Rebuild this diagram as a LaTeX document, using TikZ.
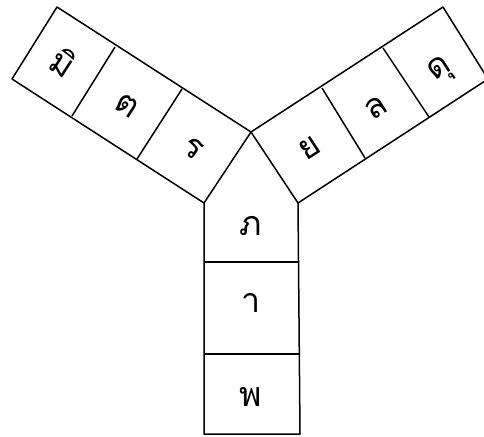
\documentclass[tikz,border=0pt]{standalone}
\usepackage{fontspec}
\newfontfamily\thaifont[Script=Thai]{Loma}
\usetikzlibrary{calc}
\tikzstyle{cell}=[draw=black,line width=1.5pt,line join=round]
\tikzstyle{letter}=[inner sep=0pt,font=\thaifont\fontsize{34}{40}\selectfont]

\begin{document}
\begin{tikzpicture}[x=1pt,y=-1pt]
\useasboundingbox (0,0) rectangle (484,436);
\clip (0,0) rectangle (484,436);
        % centre and inner corners
        \coordinate (O)   at (251,132);
        \coordinate (Lin) at (204,203);
        \coordinate (Rin) at (298,203);
        % left arm
        \coordinate (L0t) at (57,7);   \coordinate (L0b) at (12,79);
        \coordinate (L1t) at (115,47); \coordinate (L1b) at (72,116);
        \coordinate (L2t) at (182,89); \coordinate (L2b) at (137,159);
        % right arm
        \coordinate (R0t) at (443,7);   \coordinate (R0b) at (488,79);
        \coordinate (R1t) at (383,48);  \coordinate (R1b) at (429,117);
        \coordinate (R2t) at (322,88);  \coordinate (R2b) at (365,158);
        % bottom arm
        \coordinate (B1l) at (204,262); \coordinate (B1r) at (299,262);
        \coordinate (B2l) at (204,354); \coordinate (B2r) at (299,354);
        \coordinate (B3l) at (204,434); \coordinate (B3r) at (300,434);

        \draw[cell] (O) -- (L0t) -- (L0b) -- (Lin) -- cycle;
        \draw[cell] (O) -- (R0t) -- (R0b) -- (Rin) -- cycle;
        \draw[cell] (Lin) -- (B3l) -- (B3r) -- (Rin);
        \foreach \a/\b in {L1t/L1b, L2t/L2b, R1t/R1b, R2t/R2b, B1l/B1r, B2l/B2r}
          \draw[cell] (\a) -- (\b);

        \node[letter,rotate=-33] (mi)  at (63,62)   {มิ};
        \node[letter,rotate=-33] (to)  at (127,106) {ต};
        \node[letter,rotate=-33] (ro)  at (193,149) {ร};
        \node[letter,rotate=33]  (yo)  at (310,148) {ย};
        \node[letter,rotate=33]  (lo)  at (376,108) {ล};
        \node[letter,rotate=33]  (du)  at (441,71)  {ดุ};
        \node[letter] (pho) at (251,226) {ภ};
        \node[letter] (aa)  at (251,303) {า};
        \node[letter] (pha) at (251,397) {พ};
      \end{tikzpicture}
\end{document}
